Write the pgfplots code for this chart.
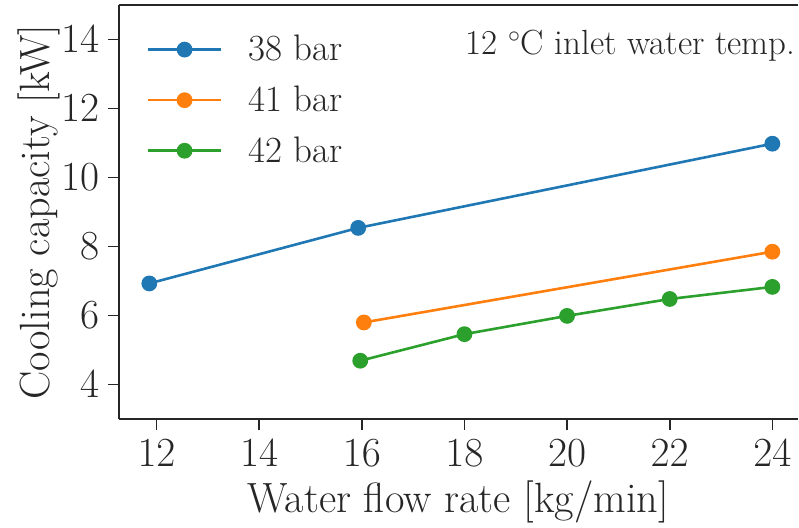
\documentclass[border=0pt]{standalone}
\usepackage{pgfplots}
\pgfplotsset{compat=1.18}

\definecolor{tabblue}{HTML}{1F77B4}
\definecolor{taborange}{HTML}{FF7F0E}
\definecolor{tabgreen}{HTML}{2CA02C}
\definecolor{spine}{HTML}{262626}

\begin{document}
\begin{tikzpicture}
\begin{axis}[
  scale only axis,
  width=340.5pt, height=207.5pt,
  xmin=11.26, xmax=24.5,
  ymin=3.0, ymax=15.0,
  xtick={12,14,16,18,20,22,24},
  ytick={4,6,8,10,12,14},
  axis x line*=bottom,
  axis y line*=left,
  axis line style={spine, line width=1pt, -},
  tick style={spine, line width=0.8pt},
  tick align=outside,
  major tick length=5.4pt,
  minor tick num=0,
  xticklabel style={font=\fontsize{20.5}{25}\selectfont, text=spine, inner sep=0pt, anchor=north, yshift=-4.6pt},
  yticklabel style={font=\fontsize{20.5}{25}\selectfont, text=spine, inner sep=0pt, anchor=east, xshift=-4.1pt},
  xlabel={Water flow rate [kg/min]},
  ylabel={Cooling capacity [kW]},
  every axis x label/.style={at={([yshift=-47pt]rel axis cs:0.5,0)}, anchor=base,
    font=\fontsize{21.2}{25}\selectfont, text=spine, inner sep=0pt},
  every axis y label/.style={at={([xshift=-34.6pt]rel axis cs:0,0.5)}, rotate=90, anchor=base,
    font=\fontsize{21.2}{25}\selectfont, text=spine, inner sep=0pt},
  legend style={draw=none, fill=none, at={(rel axis cs:0,1)}, anchor=north west,
    xshift=11pt, yshift=-13pt, row sep=11pt, column sep=13pt,
    font=\fontsize{18.5}{22}\selectfont, text=spine,
    nodes={inner sep=0pt}},
  legend cell align=left,
  legend image code/.code={
    \draw[#1, mark=none] (0pt,0pt) -- (36.5pt,0pt);
    \draw[#1, only marks] plot coordinates {(18.25pt,0pt)};
  },
  every axis plot/.append style={line width=1.3pt, mark=*, mark size=3.3pt,
    mark options={solid}},
  clip=false,
  after end axis/.code={
    \draw[spine, line width=1pt] (rel axis cs:0,1) -- (rel axis cs:1,1);
    \path ([xshift=-59.4pt, yshift=-54.5pt]rel axis cs:0,0)
      rectangle ([xshift=0pt, yshift=2.5pt]rel axis cs:1,1);
    \node[anchor=base east, inner sep=0pt, text=spine,
      font=\fontsize{17.5}{22}\selectfont]
      at ([xshift=-1.2pt, yshift=-25pt]rel axis cs:1,1) {12 $^\circ$C inlet water temp.};
  },
]
% 38 bar
\addplot[color=tabblue] coordinates {(11.86,6.93) (15.93,8.54) (24.0,10.98)};
\addlegendentry{38 bar}
% 41 bar
\addplot[color=taborange] coordinates {(16.04,5.80) (24.0,7.85)};
\addlegendentry{41 bar}
% 42 bar
\addplot[color=tabgreen] coordinates {(15.97,4.69) (18.0,5.46) (20.0,5.99) (22.0,6.48) (24.0,6.83)};
\addlegendentry{42 bar}
\end{axis}
\end{tikzpicture}
\end{document}
